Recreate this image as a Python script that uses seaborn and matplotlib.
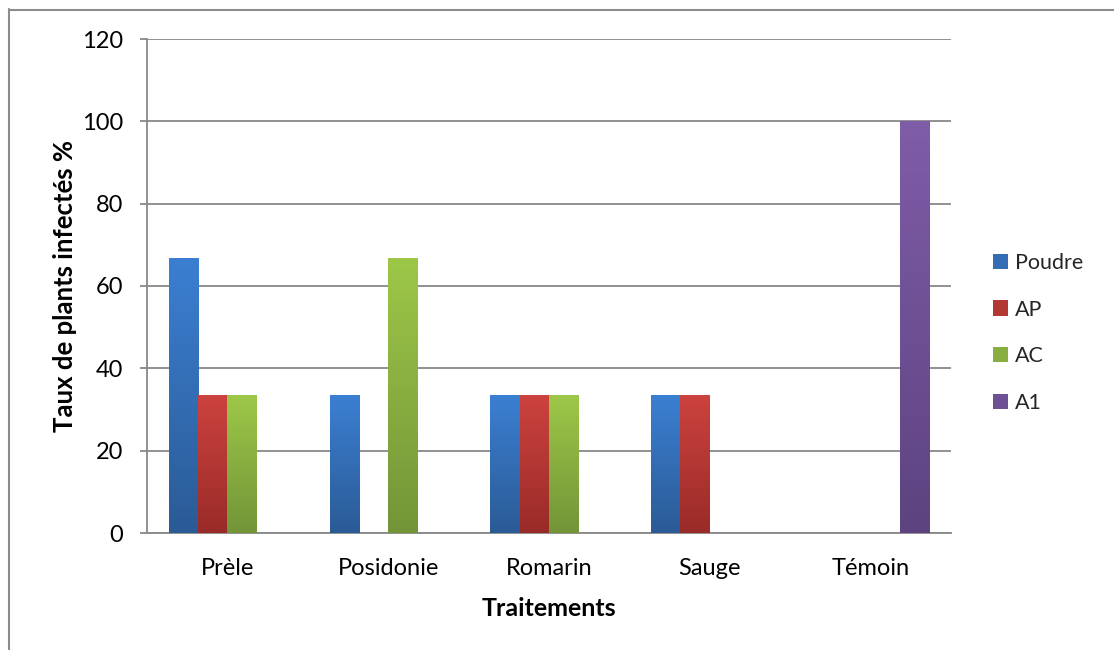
import numpy as np
import pandas as pd
import matplotlib
matplotlib.use("Agg")
import matplotlib.pyplot as plt
import seaborn as sns
from matplotlib.lines import Line2D
from matplotlib.patches import Patch
from matplotlib.colors import to_rgb

# ---- data ----
categories = ["Prèle", "Posidonie", "Romarin", "Sauge", "Témoin"]
series = ["Poudre", "AP", "AC", "A1"]
poudre = [66.7, 33.3, 33.3, 33.3, 0]
ap = [33.3, 0, 33.3, 33.3, 0]
ac = [33.3, 66.7, 33.3, 0, 0]
a1 = [0, 0, 0, 0, 100]
yticks = [0, 20, 40, 60, 80, 100, 120]

values = {"Poudre": poudre, "AP": ap, "AC": ac, "A1": a1}
rows = []
for s in series:
    for c, v in zip(categories, values[s]):
        rows.append({"Traitement": c, "Série": s, "Taux": v})
df = pd.DataFrame(rows)

# ---- style ----
top_cols = {"Poudre": "#3B7FD2", "AP": "#CC423E", "AC": "#9DC748", "A1": "#7F5CA8"}
bot_cols = {"Poudre": "#2B5B96", "AP": "#9A2B28", "AC": "#739538", "A1": "#5D4380"}
mid_cols = {s: tuple((np.array(to_rgb(top_cols[s])) + np.array(to_rgb(bot_cols[s]))) / 2) for s in series}

sns.set_theme(style="white")
plt.rcParams["font.family"] = ["Lato", "DejaVu Sans"]
grid_col = "#888888"

fig = plt.figure(figsize=(11.14, 6.5), dpi=100)
W, H = 1114, 650
ax = fig.add_axes([147 / W, 1 - 533 / H, (951 - 147) / W, (533 - 39) / H])

sns.barplot(data=df, x="Traitement", y="Taux", hue="Série", order=categories,
            hue_order=series, palette=[mid_cols[s] for s in series],
            width=0.73, gap=0, ax=ax, errorbar=None, saturation=1, legend=False,
            linewidth=0)

# gradients over bars
for s, cont in zip(series, ax.containers):
    t = np.array(to_rgb(top_cols[s]))
    b = np.array(to_rgb(bot_cols[s]))
    grad = np.linspace(0, 1, 64)[:, None]
    img = (t[None, :] * (1 - grad) + b[None, :] * grad)[:, None, :]
    for p in cont.patches:
        h = p.get_height()
        if h <= 0:
            p.set_visible(False)
            continue
        x0 = p.get_x()
        w = p.get_width()
        ax.imshow(img, extent=(x0, x0 + w, 0, h), aspect="auto",
                  interpolation="bilinear", zorder=3, origin="upper")

ax.set_xlim(-0.5, 4.5)
ax.set_ylim(0, 120)
ax.set_yticks(yticks)
ax.set_yticklabels([str(v) for v in yticks])
ax.set_axisbelow(True)
ax.yaxis.grid(True, color=grid_col, linewidth=1.3)
ax.xaxis.grid(False)
for side in ["top", "right"]:
    ax.spines[side].set_visible(False)
for side in ["left", "bottom"]:
    ax.spines[side].set_color(grid_col)
    ax.spines[side].set_linewidth(1.3)
ax.tick_params(axis="y", which="major", length=5, width=1.3, color=grid_col,
               direction="out", left=True, pad=12, labelsize=17, labelcolor="black")
ax.tick_params(axis="x", length=0, pad=18, labelsize=17, labelcolor="black")
ax.set_xlabel("Traitements", fontsize=18, fontweight="bold", labelpad=13, color="black")
ax.set_ylabel("Taux de plants infectés %", fontsize=18.5, fontweight="bold", labelpad=4, color="black")

handles = [Patch(facecolor=mid_cols[s], edgecolor="none") for s in series]
fig.legend(handles, series, loc="center left", bbox_to_anchor=(993 / W, 1 - 333 / H),
           frameon=False, fontsize=15.5, handlelength=0.7, handleheight=0.7,
           handletextpad=0.3, labelspacing=1.25, borderpad=0, borderaxespad=0)

# outer chart border
fig.add_artist(Line2D([8.5 / W, 8.5 / W], [0, 1 - 9 / H], transform=fig.transFigure,
                      color="#8C8C8C", linewidth=1.5))
fig.add_artist(Line2D([8.5 / W, 1], [1 - 9.5 / H, 1 - 9.5 / H], transform=fig.transFigure,
                      color="#8C8C8C", linewidth=1.5))

fig.savefig("out.png", dpi=100)
